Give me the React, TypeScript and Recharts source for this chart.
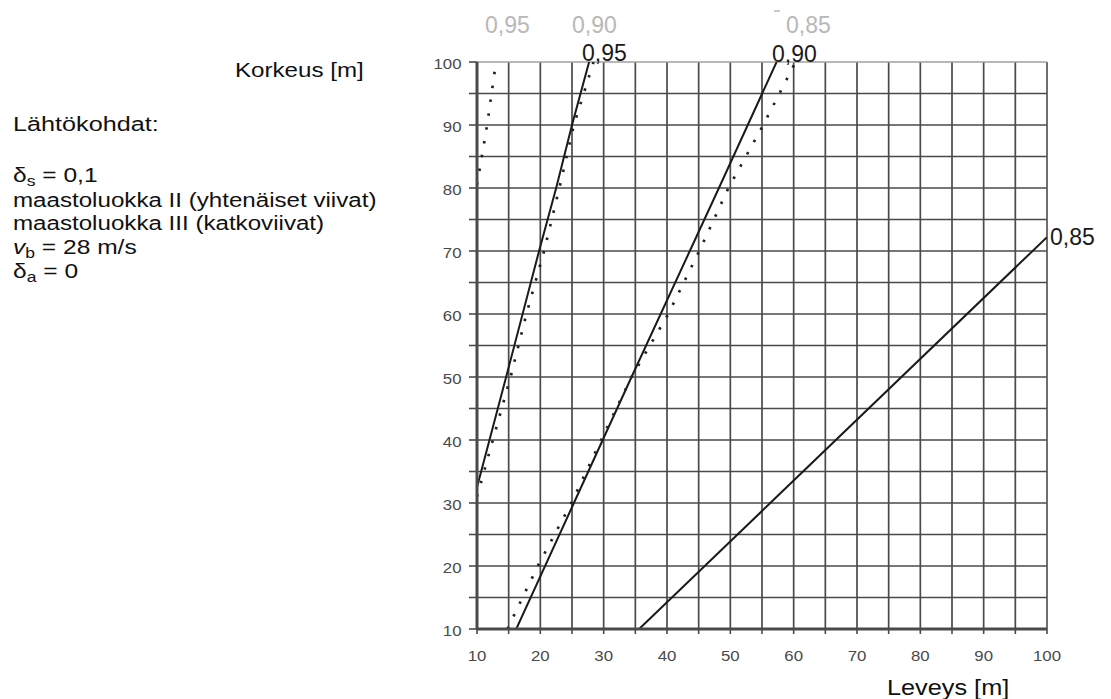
import React from 'react';
import { LineChart, Line, XAxis, YAxis, ReferenceLine } from 'recharts';

// Axis values
const axisTicks = [10, 15, 20, 25, 30, 35, 40, 45, 50, 55, 60, 65, 70, 75, 80, 85, 90, 95, 100];
const gridValues = [15, 20, 25, 30, 35, 40, 45, 50, 55, 60, 65, 70, 75, 80, 85, 90, 95];
const labelledTicks = [10, 20, 30, 40, 50, 60, 70, 80, 90, 100];

// maastoluokka II (solid lines)
const solid095 = [
  { x: 10, y: 32.5 },
  { x: 14.6, y: 50 },
  { x: 19.8, y: 70 },
  { x: 22.5, y: 80 },
  { x: 25.0, y: 90 },
  { x: 27.7, y: 100 },
];
const solid090 = [
  { x: 16.2, y: 10 },
  { x: 25.3, y: 30 },
  { x: 34.4, y: 50 },
  { x: 43.6, y: 70 },
  { x: 48.2, y: 80 },
  { x: 57.3, y: 100 },
];
const solid085 = [
  { x: 35.6, y: 10 },
  { x: 100, y: 72.2 },
];

// maastoluokka III (dotted lines)
const dotted095 = [
  { x: 10, y: 80.5 },
  { x: 11.6, y: 90 },
  { x: 13.0, y: 100 },
];
const dotted090 = [
  { x: 10, y: 31 },
  { x: 12.5, y: 40 },
  { x: 15.3, y: 50 },
  { x: 17.8, y: 60 },
  { x: 20.6, y: 70 },
  { x: 23.0, y: 80 },
  { x: 25.3, y: 90 },
  { x: 28.4, y: 100 },
];
const dotted085 = [
  { x: 14.8, y: 10 },
  { x: 19.6, y: 20 },
  { x: 24.9, y: 30 },
  { x: 29.6, y: 40 },
  { x: 34.4, y: 50 },
  { x: 40.2, y: 60 },
  { x: 45.1, y: 70 },
  { x: 49.7, y: 80 },
  { x: 55.2, y: 90 },
  { x: 60.3, y: 100 },
];

const FONT = '"Liberation Sans", Arial, Helvetica, sans-serif';
const GRID = '#4a4a4a';

const XTick = (props: any) => {
  const { x, y, payload } = props;
  const v = payload.value;
  if (!labelledTicks.includes(v)) return <g />;
  return (
    <g transform={`translate(${x},${y})`}>
      <text transform="scale(1.2,1)" textAnchor="middle" y={25} fontSize={14} fill="#4a4a4a" fontFamily={FONT}>
        {v}
      </text>
    </g>
  );
};

const YTick = (props: any) => {
  const { x, y, payload } = props;
  const v = payload.value;
  if (!labelledTicks.includes(v)) return <g />;
  return (
    <g transform={`translate(${x - 5.5},${y})`}>
      <text transform="scale(1.2,1)" textAnchor="end" y={6.5} fontSize={14} fill="#4a4a4a" fontFamily={FONT}>
        {v}
      </text>
    </g>
  );
};

export default function App() {
  return (
    <div style={{ position: 'absolute', left: 0, top: 0, width: 1111, height: 699, background: '#fff' }}>
      <LineChart
        width={1111}
        height={699}
        margin={{ top: 62, right: 64, bottom: 40, left: 417 }}
      >
        <XAxis
          type="number"
          dataKey="x"
          domain={[10, 100]}
          ticks={axisTicks}
          interval={0}
          allowDataOverflow
          height={30}
          tickSize={5}
          tick={<XTick />}
          axisLine={{ stroke: '#4a4a4a', strokeWidth: 3 }}
          tickLine={{ stroke: '#4a4a4a', strokeWidth: 1.6 }}
        />
        <YAxis
          type="number"
          dataKey="y"
          domain={[10, 100]}
          ticks={axisTicks}
          interval={0}
          allowDataOverflow
          width={60}
          tickSize={8}
          tick={<YTick />}
          axisLine={{ stroke: '#4a4a4a', strokeWidth: 3 }}
          tickLine={{ stroke: '#4a4a4a', strokeWidth: 1.6 }}
        />
        {gridValues.map((v) => (
          <ReferenceLine key={'gx' + v} x={v} stroke={GRID} strokeWidth={1.7} />
        ))}
        {gridValues.map((v) => (
          <ReferenceLine key={'gy' + v} y={v} stroke={GRID} strokeWidth={1.7} />
        ))}
        <ReferenceLine x={100} stroke="#555" strokeWidth={1.7} />
        <ReferenceLine y={100} stroke="#a0a0a0" strokeWidth={1.3} />

        <Line data={solid095} dataKey="y" type="linear" stroke="#1a1a1a" strokeWidth={2} dot={false} isAnimationActive={false} />
        <Line data={solid090} dataKey="y" type="linear" stroke="#1a1a1a" strokeWidth={2} dot={false} isAnimationActive={false} />
        <Line data={solid085} dataKey="y" type="linear" stroke="#1a1a1a" strokeWidth={2} dot={false} isAnimationActive={false} />
        <Line data={dotted095} dataKey="y" type="linear" stroke="#222" strokeWidth={2.7} strokeDasharray="2.5 11.5" dot={false} isAnimationActive={false} />
        <Line data={dotted090} dataKey="y" type="linear" stroke="#222" strokeWidth={2.7} strokeDasharray="2.5 11.5" dot={false} isAnimationActive={false} />
        <Line data={dotted085} dataKey="y" type="linear" stroke="#222" strokeWidth={2.7} strokeDasharray="2.5 11.5" dot={false} isAnimationActive={false} />
      </LineChart>

      <svg
        width={1111}
        height={699}
        style={{ position: 'absolute', left: 0, top: 0, pointerEvents: 'none' }}
        fontFamily={FONT}
      >
        {/* line labels: terrain III (grey) */}
        <text x={485} y={33} fontSize={23} fill="#b8b8b8">0,95</text>
        <text x={572} y={33} fontSize={23} fill="#b8b8b8">0,90</text>
        <text x={786} y={33} fontSize={23} fill="#b8b8b8">0,85</text>
        <line x1={774} y1={11} x2={780} y2={11} stroke="#b8b8b8" strokeWidth={1.5} />
        {/* line labels: terrain II (black) */}
        <text x={582} y={61} fontSize={23} fill="#1a1a1a">0,95</text>
        <text x={772} y={61.5} fontSize={23} fill="#1a1a1a">0,90</text>
        <text x={1050} y={245} fontSize={23} fill="#1a1a1a">0,85</text>

        {/* axis titles */}
        <text transform="translate(235,76.5) scale(1.15,1)" fontSize={21} fill="#111">Korkeus [m]</text>
        <text transform="translate(887,695) scale(1.15,1)" fontSize={22} fill="#111">Leveys [m]</text>

        {/* starting points block */}
        <g fill="#111" fontSize={21}>
          <text transform="translate(13,130.5) scale(1.2,1)">Lähtökohdat:</text>
          <text transform="translate(13,181.5) scale(1.17,1)">
            δ<tspan fontSize={15} dy={4}>s</tspan>
            <tspan dy={-4}> = 0,1</tspan>
          </text>
          <text transform="translate(13,206.5) scale(1.15,1)">maastoluokka II (yhtenäiset viivat)</text>
          <text transform="translate(13,230) scale(1.15,1)">maastoluokka III (katkoviivat)</text>
          <text transform="translate(13,253.5) scale(1.17,1)">
            <tspan fontStyle="italic">v</tspan>
            <tspan fontSize={15} dy={4}>b</tspan>
            <tspan dy={-4}> = 28 m/s</tspan>
          </text>
          <text transform="translate(13,277.5) scale(1.17,1)">
            δ<tspan fontSize={15} dy={4}>a</tspan>
            <tspan dy={-4}> = 0</tspan>
          </text>
        </g>
      </svg>
    </div>
  );
}
